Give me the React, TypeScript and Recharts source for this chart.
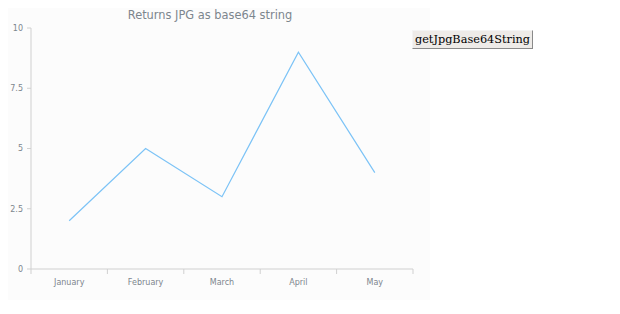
import React from "react";
import { LineChart, Line, XAxis, YAxis } from "recharts";

const months = ["January", "February", "March", "April", "May"];
const values = [2, 5, 3, 9, 4];
const yTicks = [0, 2.5, 5, 7.5, 10];

const data = months.map((m, i) => ({ month: m, value: values[i] }));

const CHART_W = 430;
const CHART_H = 300;
const MARGIN = { top: 28, right: 17, left: 0, bottom: 0 };
const Y_W = 31;
const BAND = (CHART_W - MARGIN.left - MARGIN.right - Y_W) / months.length;

const XTick = (props: any) => {
  const { x, y, payload, index } = props;
  const axisY = y;
  return (
    <g>
      <line x1={x - BAND / 2} x2={x - BAND / 2} y1={axisY} y2={axisY + 5} stroke="#d0d0d0" />
      {index === months.length - 1 && (
        <line x1={x + BAND / 2} x2={x + BAND / 2} y1={axisY} y2={axisY + 5} stroke="#d0d0d0" />
      )}
      <text x={x} y={axisY + 16} textAnchor="middle" fill="#7c868e" fontSize={8} fontFamily="DejaVu Sans">
        {payload.value}
      </text>
    </g>
  );
};

export default function App() {
  return (
    <div style={{ position: "relative", width: 620, height: 314, margin: -8 }}>
      <div style={{ position: "absolute", left: 0, top: 0, width: CHART_W, height: CHART_H, background: "#fcfcfc" }}>
        <div
          style={{
            position: "absolute",
            left: 0,
            top: 8,
            width: CHART_W - 10,
            textAlign: "center",
            fontFamily: "DejaVu Sans",
            fontSize: 11.4,
            color: "#7c868e",
          }}
        >
          Returns JPG as base64 string
        </div>
        <LineChart width={CHART_W} height={CHART_H} data={data} margin={MARGIN}>
          <XAxis
            dataKey="month"
            height={31}
            tickLine={false}
            tickSize={0}
            tickMargin={0}
            stroke="#d0d0d0"
            tick={<XTick />}
            interval={0}
            padding={{ left: BAND / 2, right: BAND / 2 }}
          />
          <YAxis
            width={Y_W}
            domain={[0, 10]}
            ticks={yTicks}
            tickSize={4}
            tickMargin={4}
            stroke="#d0d0d0"
            tick={{ fill: "#7c868e", fontSize: 8, fontFamily: "DejaVu Sans" }}
            interval={0}
          />
          <Line
            type="linear"
            dataKey="value"
            stroke="#7cc3f6"
            strokeWidth={1.2}
            dot={false}
            isAnimationActive={false}
          />
        </LineChart>
      </div>
      <button
        style={{
          position: "absolute",
          left: 412,
          top: 30,
          width: 121,
          height: 19,
          padding: 0,
          fontFamily: "DejaVu Serif",
          fontSize: 11.3,
          background: "#eeebe8",
          border: "1px solid",
          borderColor: "#f4f4f4 #8a8a8a #8a8a8a #f4f4f4",
          color: "#000",
          whiteSpace: "nowrap",
        }}
      >
        getJpgBase64String
      </button>
    </div>
  );
}
